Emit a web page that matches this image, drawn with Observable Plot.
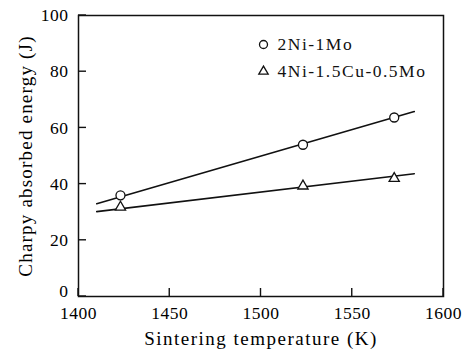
<!DOCTYPE html>
<html>
<head>
<meta charset="utf-8">
<script src="https://cdn.jsdelivr.net/npm/d3@7"></script>
<script src="https://cdn.jsdelivr.net/npm/@observablehq/plot@0.6"></script>
<style>
  body { margin: 0; background: #fff; }
  #chart svg { font-family: "Liberation Serif", "DejaVu Serif", serif; }
  g[aria-label="x-axis tick label"], g[aria-label="y-axis tick label"] { font-size: 17.5px; letter-spacing: 0.5px; }
  g[aria-label="x-axis label"] { font-size: 19px; letter-spacing: 1.5px; }
  g[aria-label="y-axis label"] { font-size: 19px; letter-spacing: 1.2px; }
  g.legend-text { font-size: 17.5px; letter-spacing: 1.5px; }
</style>
</head>
<body>
<div id="chart"></div>
<script>
// Sintering temperature (K) of the measured specimens
const temps = [1423, 1523, 1573];
// Charpy absorbed energy (J) for each alloy
const energyNiMo = [36, 54, 63.7];
const energyNiCuMo = [31.8, 39.3, 42];
// End points of the fitted trend lines
const fitTemps = [1410, 1584];
const fitNiMo = [33, 65.8];
const fitNiCuMo = [30.2, 43.7];

const seriesNames = ["2Ni-1Mo", "4Ni-1.5Cu-0.5Mo"];
const xTicks = [1400, 1450, 1500, 1550, 1600];
const yTicks = [0, 20, 40, 60, 80, 100];

const rows = (xs, ys) => xs.map((t, i) => ({t, e: ys[i]}));

const W = 475, H = 355;
const M = {left: 78, right: 32, top: 15, bottom: 59};
const tickLen = 8;

// tick marks drawn from the frame edge into the plot area
function inwardTicks(axis, values) {
  return (index, scales, channels, dimensions) => {
    const {marginLeft, marginBottom, height} = dimensions;
    const g = d3.create("svg:g").attr("stroke", "#111").attr("stroke-width", 1.4);
    for (const v of values) {
      if (axis === "x") {
        const px = scales.x(v);
        g.append("line").attr("x1", px).attr("x2", px)
          .attr("y1", height - marginBottom).attr("y2", height - marginBottom - tickLen);
      } else {
        const py = scales.y(v);
        g.append("line").attr("x1", marginLeft).attr("x2", marginLeft + tickLen)
          .attr("y1", py).attr("y2", py);
      }
    }
    return g.node();
  };
}

const yLabelAxis = {tickSize: 0, tickPadding: 10, tickFormat: d => String(d)};

const chart = Plot.plot({
  width: W,
  height: H,
  marginLeft: M.left,
  marginRight: M.right,
  marginTop: M.top,
  marginBottom: M.bottom,
  x: {domain: [1400, 1600]},
  y: {domain: [0, 100]},
  marks: [
    Plot.frame({stroke: "#111", strokeWidth: 1.5}),
    inwardTicks("x", xTicks),
    inwardTicks("y", yTicks),
    Plot.axisX(xTicks, {tickSize: 0, tickPadding: 10, tickFormat: d => String(d), label: "Sintering temperature (K)", labelAnchor: "center", labelArrow: "none", labelOffset: 48}),
    Plot.axisY(yTicks.slice(1), {...yLabelAxis, label: "Charpy absorbed energy (J)", labelAnchor: "center", labelArrow: "none", labelOffset: 60}),
    Plot.axisY(yTicks.slice(0, 1), {...yLabelAxis, dy: -5, label: null}),
    Plot.line(rows(fitTemps, fitNiMo), {x: "t", y: "e", stroke: "#111", strokeWidth: 1.6}),
    Plot.line(rows(fitTemps, fitNiCuMo), {x: "t", y: "e", stroke: "#111", strokeWidth: 1.6}),
    Plot.dot(rows(temps, energyNiMo), {x: "t", y: "e", symbol: "circle", r: 4.5, fill: "white", stroke: "#111", strokeWidth: 1.3}),
    Plot.dot(rows(temps, energyNiCuMo), {x: "t", y: "e", symbol: "triangle", r: 3.8, fill: "white", stroke: "#111", strokeWidth: 1.3}),
    // legend
    Plot.dot([seriesNames[0]], {frameAnchor: "top-left", dx: 185, dy: 29, symbol: "circle", r: 4, fill: "white", stroke: "#111", strokeWidth: 1.3}),
    Plot.dot([seriesNames[1]], {frameAnchor: "top-left", dx: 185, dy: 56, symbol: "triangle", r: 3.5, fill: "white", stroke: "#111", strokeWidth: 1.3}),
    Plot.text([seriesNames[0]], {text: d => d, frameAnchor: "top-left", dx: 199, dy: 29, textAnchor: "start", lineAnchor: "middle", fill: "#111", className: "legend-text"}),
    Plot.text([seriesNames[1]], {text: d => d, frameAnchor: "top-left", dx: 199, dy: 56, textAnchor: "start", lineAnchor: "middle", fill: "#111", className: "legend-text"})
  ]
});
document.getElementById("chart").append(chart);
</script>
</body>
</html>
